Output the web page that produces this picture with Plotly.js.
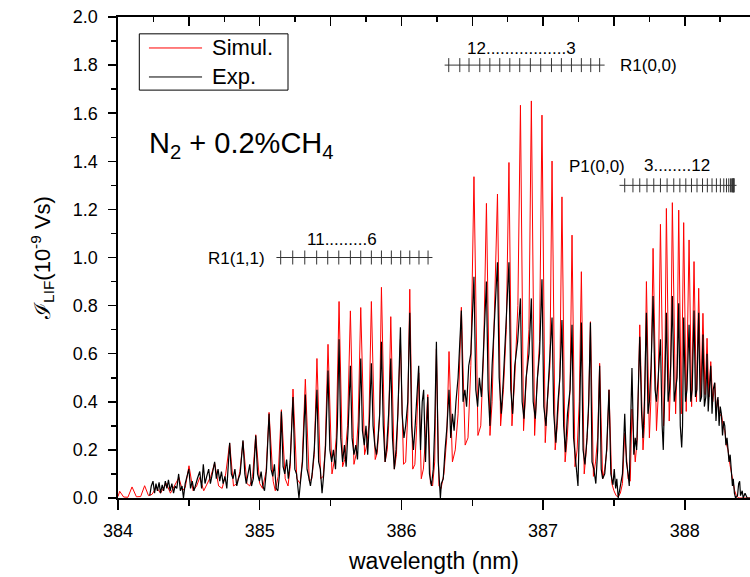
<!DOCTYPE html>
<html><head><meta charset="utf-8">
<script src="https://cdn.plot.ly/plotly-3.0.1.min.js"></script>
<style>html,body{margin:0;padding:0;background:#fff}#chart{width:750px;height:577px}</style>
</head><body><div id="chart"></div>
<script>
// Simulated spectrum (wavelength nm, intensity 1e-9 Vs)
const simData = [
[384.000,0.006],[384.012,0.028],[384.040,0.004],[384.070,0.003],[384.099,0.046],[384.130,0.005],[384.160,0.006],[384.188,0.051],[384.215,0.010],[384.240,0.015],
[384.271,0.045],[384.300,0.020],[384.320,0.040],[384.342,0.060],[384.370,0.020],[384.395,0.050],[384.430,0.085],[384.455,0.030],[384.475,0.045],[384.501,0.134],
[384.530,0.030],[384.555,0.050],[384.577,0.085],[384.605,0.030],[384.630,0.060],[384.655,0.090],[384.682,0.145],[384.710,0.050],[384.735,0.040],[384.760,0.100],
[384.788,0.228],[384.815,0.050],[384.840,0.060],[384.860,0.110],[384.882,0.235],[384.910,0.060],[384.930,0.050],[384.950,0.090],[384.972,0.263],[385.000,0.060],
[385.020,0.040],[385.045,0.110],[385.066,0.356],[385.095,0.070],[385.110,0.030],[385.130,0.090],[385.153,0.367],[385.180,0.080],[385.200,0.050],[385.215,0.130],
[385.235,0.453],[385.262,0.080],[385.285,0.060],[385.300,0.150],[385.322,0.494],[385.350,0.070],[385.368,0.080],[385.385,0.180],[385.404,0.580],[385.430,0.080],
[385.448,0.090],[385.462,0.200],[385.482,0.639],[385.510,0.100],[385.525,0.150],[385.540,0.250],[385.560,0.817],[385.585,0.130],[385.600,0.160],[385.620,0.300],
[385.640,0.778],[385.665,0.140],[385.680,0.180],[385.695,0.320],[385.713,0.792],[385.740,0.180],[385.755,0.220],[385.770,0.300],[385.788,0.817],[385.815,0.160],
[385.830,0.190],[385.845,0.330],[385.859,0.876],[385.885,0.150],[385.900,0.200],[385.910,0.300],[385.925,0.754],[385.950,0.120],[385.965,0.180],[385.975,0.350],
[385.993,0.660],[386.015,0.140],[386.030,0.150],[386.045,0.350],[386.059,0.868],[386.080,0.120],[386.095,0.140],[386.108,0.300],[386.122,0.520],[386.140,0.080],
[386.155,0.120],[386.170,0.250],[386.186,0.430],[386.205,0.060],[386.220,0.050],[386.235,0.150],[386.247,0.620],[386.265,0.050],[386.280,0.040],[386.300,0.100],
[386.320,0.250],[386.336,0.609],[386.360,0.150],[386.380,0.200],[386.400,0.350],[386.423,0.793],[386.450,0.220],[386.470,0.250],[386.490,0.550],[386.512,1.336],
[386.540,0.260],[386.560,0.300],[386.580,0.600],[386.600,1.225],[386.625,0.260],[386.640,0.400],[386.660,0.820],[386.678,1.264],[386.700,0.300],[386.720,0.450],
[386.740,0.700],[386.759,1.395],[386.780,0.300],[386.800,0.500],[386.822,0.800],[386.840,1.633],[386.862,0.280],[386.880,0.500],[386.900,0.700],[386.917,1.651],
[386.940,0.260],[386.955,0.450],[386.975,0.650],[386.992,1.592],[387.015,0.230],[387.030,0.400],[387.048,0.550],[387.063,1.401],[387.085,0.200],[387.100,0.300],
[387.118,0.500],[387.133,1.252],[387.155,0.150],[387.170,0.250],[387.190,0.450],[387.204,1.093],[387.225,0.130],[387.240,0.200],[387.255,0.400],[387.270,0.941],
[387.290,0.100],[387.305,0.200],[387.320,0.350],[387.334,0.733],[387.355,0.090],[387.370,0.150],[387.385,0.250],[387.399,0.560],[387.420,0.080],[387.435,0.120],
[387.450,0.200],[387.465,0.450],[387.485,0.060],[387.500,0.030],[387.515,0.010],[387.530,0.005],[387.545,0.020],[387.560,0.060],[387.576,0.270],[387.600,0.080],
[387.615,0.070],[387.627,0.370],[387.650,0.150],[387.665,0.250],[387.682,0.720],[387.705,0.200],[387.715,0.300],[387.729,0.900],[387.750,0.250],[387.760,0.400],
[387.776,1.038],[387.800,0.280],[387.812,0.420],[387.828,1.138],[387.850,0.300],[387.858,0.450],[387.870,1.204],[387.890,0.320],[387.900,0.500],[387.912,1.228],
[387.935,0.350],[387.945,0.550],[387.957,1.197],[387.975,0.350],[387.992,1.145],[388.010,0.360],[388.030,1.073],[388.048,0.380],[388.065,0.983],[388.082,0.400],
[388.098,0.872],[388.113,0.420],[388.128,0.768],[388.143,0.430],[388.157,0.664],[388.170,0.420],[388.183,0.567],[388.197,0.400],[388.211,0.477],[388.222,0.370],
[388.234,0.408],[388.246,0.340],[388.258,0.350],[388.270,0.300],[388.282,0.280],[388.295,0.220],[388.305,0.200],[388.318,0.140],[388.329,0.100],[388.340,0.060],
[388.352,0.030],[388.364,0.010],[388.380,0.000],[388.460,0.000]
];
// Experimental spectrum
const expData = [
[384.224,0.010],[384.235,0.050],[384.247,0.070],[384.258,0.020],[384.268,0.060],[384.278,0.030],[384.290,0.065],[384.300,0.020],[384.312,0.055],[384.322,0.030],
[384.334,0.070],[384.345,0.040],[384.356,0.075],[384.368,0.030],[384.380,0.060],[384.392,0.020],[384.403,0.050],[384.415,0.040],[384.428,0.100],[384.440,0.030],
[384.452,0.050],[384.462,0.000],[384.474,0.060],[384.488,0.090],[384.500,0.120],[384.512,0.040],[384.524,0.070],[384.536,0.030],[384.548,0.060],[384.560,0.080],
[384.577,0.110],[384.590,0.040],[384.602,0.140],[384.614,0.060],[384.626,0.090],[384.640,0.120],[384.652,0.060],[384.665,0.100],[384.682,0.150],[384.694,0.080],
[384.706,0.120],[384.718,0.070],[384.730,0.110],[384.742,0.060],[384.755,0.090],[384.768,0.040],[384.788,0.230],[384.800,0.100],[384.812,0.080],[384.825,0.120],
[384.838,0.050],[384.850,0.080],[384.862,0.100],[384.882,0.240],[384.895,0.100],[384.905,0.060],[384.918,0.110],[384.930,0.140],[384.942,0.050],[384.955,0.080],
[384.972,0.260],[384.985,0.100],[384.998,0.070],[385.010,0.110],[385.022,0.050],[385.034,0.030],[385.048,0.120],[385.066,0.350],[385.080,0.120],[385.092,0.090],
[385.104,0.140],[385.116,0.040],[385.128,0.030],[385.140,0.100],[385.153,0.360],[385.165,0.130],[385.177,0.100],[385.190,0.160],[385.202,0.080],[385.215,0.150],
[385.235,0.420],[385.248,0.120],[385.260,0.100],[385.277,0.000],[385.290,0.080],[385.302,0.150],[385.322,0.430],[385.334,0.120],[385.345,0.090],[385.358,0.050],
[385.370,0.100],[385.385,0.200],[385.404,0.450],[385.416,0.150],[385.428,0.120],[385.440,0.020],[385.452,0.100],[385.465,0.220],[385.482,0.530],[385.495,0.200],
[385.508,0.150],[385.520,0.200],[385.535,0.120],[385.548,0.300],[385.560,0.660],[385.572,0.250],[385.585,0.150],[385.598,0.220],[385.610,0.130],[385.625,0.300],
[385.640,0.550],[385.652,0.250],[385.665,0.180],[385.678,0.220],[385.690,0.160],[385.700,0.300],[385.713,0.580],[385.725,0.280],[385.738,0.220],[385.750,0.300],
[385.762,0.180],[385.775,0.330],[385.788,0.560],[385.800,0.300],[385.812,0.220],[385.824,0.180],[385.835,0.250],[385.847,0.350],[385.859,0.650],[385.872,0.300],
[385.885,0.150],[385.897,0.220],[385.910,0.350],[385.925,0.580],[385.937,0.250],[385.950,0.120],[385.962,0.200],[385.975,0.350],[385.993,0.710],[386.005,0.350],
[386.018,0.250],[386.030,0.300],[386.045,0.400],[386.059,0.770],[386.072,0.300],[386.085,0.200],[386.097,0.300],[386.110,0.450],[386.122,0.550],[386.135,0.200],
[386.147,0.400],[386.157,0.450],[386.170,0.150],[386.186,0.420],[386.198,0.100],[386.212,0.050],[386.225,0.120],[386.235,0.300],[386.247,0.650],[386.260,0.150],
[386.270,0.050],[386.275,0.000],[386.282,0.060],[386.295,0.080],[386.308,0.200],[386.322,0.300],[386.336,0.450],[386.348,0.250],[386.360,0.350],[386.372,0.280],
[386.385,0.400],[386.400,0.500],[386.423,0.780],[386.435,0.400],[386.448,0.450],[386.460,0.380],[386.475,0.550],[386.490,0.600],[386.512,0.920],[386.525,0.450],
[386.538,0.380],[386.550,0.500],[386.565,0.420],[386.580,0.600],[386.600,0.900],[386.612,0.450],[386.625,0.300],[386.640,0.550],[386.655,0.700],[386.678,0.980],
[386.690,0.500],[386.705,0.350],[386.720,0.500],[386.740,0.750],[386.759,0.980],[386.772,0.450],[386.785,0.350],[386.800,0.550],[386.820,0.650],[386.840,0.830],
[386.852,0.400],[386.865,0.330],[386.880,0.500],[386.900,0.600],[386.917,0.830],[386.930,0.400],[386.945,0.330],[386.960,0.500],[386.975,0.600],[386.992,0.910],
[387.005,0.380],[387.020,0.300],[387.035,0.450],[387.048,0.550],[387.063,0.750],[387.075,0.350],[387.090,0.230],[387.105,0.400],[387.118,0.500],[387.133,0.740],
[387.145,0.300],[387.158,0.190],[387.172,0.350],[387.190,0.450],[387.204,0.720],[387.215,0.250],[387.230,0.150],[387.246,0.050],[387.258,0.350],[387.270,0.730],
[387.282,0.200],[387.295,0.140],[387.310,0.250],[387.322,0.400],[387.334,0.730],[387.345,0.150],[387.358,0.120],[387.372,0.060],[387.385,0.200],[387.399,0.550],
[387.410,0.120],[387.420,0.080],[387.435,0.100],[387.448,0.200],[387.465,0.450],[387.478,0.100],[387.493,0.055],[387.502,0.120],[387.512,0.040],[387.520,0.080],
[387.530,0.000],[387.540,0.040],[387.550,0.080],[387.560,0.100],[387.576,0.350],[387.588,0.150],[387.600,0.100],[387.608,0.050],[387.615,0.250],[387.627,0.540],
[387.640,0.180],[387.650,0.250],[387.660,0.200],[387.670,0.400],[387.682,0.670],[387.695,0.350],[387.705,0.250],[387.715,0.400],[387.729,0.770],[387.740,0.350],
[387.750,0.400],[387.762,0.550],[387.776,0.840],[387.790,0.450],[387.800,0.400],[387.812,0.500],[387.828,0.660],[387.840,0.300],[387.848,0.200],[387.858,0.450],
[387.870,0.770],[387.882,0.400],[387.892,0.450],[387.900,0.550],[387.912,0.840],[387.925,0.400],[387.935,0.450],[387.945,0.500],[387.957,0.810],[387.968,0.300],
[387.978,0.210],[387.984,0.300],[387.992,0.750],[388.005,0.400],[388.015,0.450],[388.030,0.720],[388.042,0.400],[388.052,0.450],[388.065,0.780],[388.075,0.420],
[388.085,0.450],[388.098,0.770],[388.108,0.400],[388.118,0.420],[388.128,0.680],[388.138,0.380],[388.148,0.420],[388.157,0.600],[388.165,0.360],[388.175,0.450],
[388.183,0.550],[388.192,0.350],[388.200,0.450],[388.211,0.480],[388.220,0.320],[388.228,0.400],[388.234,0.420],[388.242,0.300],[388.250,0.380],[388.258,0.350],
[388.266,0.260],[388.275,0.320],[388.282,0.300],[388.290,0.220],[388.298,0.250],[388.305,0.200],[388.312,0.150],[388.320,0.180],[388.329,0.100],[388.336,0.050],
[388.342,0.080],[388.350,0.020],[388.358,0.000],[388.372,0.010],[388.380,0.060],[388.387,0.070],[388.393,0.010],[388.405,0.030],[388.412,0.000],[388.425,0.020],
[388.440,0.000],[388.460,0.000]
];
// Line-position rulers (assignments)
const r100Lines = [386.334,386.412,386.477,386.553,386.624,386.694,386.765,386.835,386.910,386.983,387.059,387.129,387.200,387.270,387.336,387.399];
const r100Bar = [386.305, 387.434];
const r100Level = 1.8;
const p100Lines = [387.576,387.634,387.682,387.733,387.781,387.828,387.875,387.922,387.965,388.007,388.047,388.086,388.125,388.159,388.192,388.223,388.251,388.275,388.294,388.310,388.322,388.331,388.336,388.340,388.343,388.346,388.348];
const p100Bar = [387.539, 388.365];
const p100Level = 1.3;
const r111Lines = [385.148,385.233,385.318,385.402,385.480,385.558,385.640,385.713,385.788,385.859,385.929,385.995,386.059,386.124,386.188];
const r111Bar = [385.118, 386.219];
const r111Level = 1.0;

const simWl = simData.map(p => p[0]), simI = simData.map(p => p[1]);
const expWl = expData.map(p => p[0]), expI = expData.map(p => p[1]);

const FONT = 'Liberation Sans, Arial, Helvetica, sans-serif';
const rulerColor = '#333333';

function ruler(lines, bar, level) {
  return [
    {x: bar, y: [level, level], mode: 'lines', line: {color: rulerColor, width: 1}, hoverinfo: 'skip', showlegend: false},
    {x: lines, y: lines.map(() => level), mode: 'markers', marker: {symbol: 'line-ns', size: 10, line: {color: rulerColor, width: 1}}, hoverinfo: 'skip', showlegend: false}
  ];
}

const traces = [
  {x: simWl, y: simI, mode: 'lines', name: 'Simul.', line: {color: '#ff0000', width: 1}, showlegend: false},
  {x: expWl, y: expI, mode: 'lines', name: 'Exp.', line: {color: '#000000', width: 1.2}, showlegend: false},
  ...ruler(r100Lines, r100Bar, r100Level),
  ...ruler(p100Lines, p100Bar, p100Level),
  ...ruler(r111Lines, r111Bar, r111Level),
  {x: [384], y: [null], xaxis: 'x2', mode: 'lines', hoverinfo: 'skip', showlegend: false}
];

const ann = (text, x, y, xanchor, size) => ({text, x, y, xref: 'x', yref: 'y', xanchor, yanchor: 'middle', showarrow: false, font: {family: FONT, size: size || 17, color: '#000'}});

const layout = {
  width: 750, height: 577,
  margin: {l: 118, r: 0, t: 17, b: 79},
  paper_bgcolor: '#fff', plot_bgcolor: '#fff',
  font: {family: FONT, color: '#000'},
  showlegend: false,
  xaxis: {
    range: [384, 388.46], showline: true, linecolor: '#000', linewidth: 1.6,
    ticks: 'outside', ticklen: 10, tickwidth: 1.5, tickcolor: '#000', tick0: 384, dtick: 1,
    minor: {ticks: 'outside', ticklen: 6, tickwidth: 1.5, tickcolor: '#000', dtick: 0.5, showgrid: false},
    tickfont: {size: 18, family: FONT}, ticklabelstandoff: 6,
    showgrid: false, zeroline: false,
    title: {text: 'wavelength (nm)', font: {size: 23, family: FONT}, standoff: 12}
  },
  xaxis2: {
    overlaying: 'x', side: 'top', anchor: 'y', range: [384, 388.46],
    showline: true, linecolor: '#000', linewidth: 1.6,
    ticks: 'inside', ticklen: 9, tickwidth: 1.5, tickcolor: '#000', tick0: 384, dtick: 0.5,
    minor: {ticks: 'inside', ticklen: 5, tickwidth: 1.5, tickcolor: '#000', dtick: 0.25, showgrid: false},
    showticklabels: false, showgrid: false, zeroline: false
  },
  yaxis: {
    range: [0, 2.0], showline: true, linecolor: '#000', linewidth: 1.6,
    ticks: 'outside', ticklen: 8, tickwidth: 1.5, tickcolor: '#000', tick0: 0, dtick: 0.2, tickformat: '.1f',
    minor: {ticks: 'outside', ticklen: 5, tickwidth: 1.5, tickcolor: '#000', dtick: 0.1, showgrid: false},
    tickfont: {size: 18, family: FONT}, ticklabelstandoff: 7,
    showgrid: false, zeroline: false,
    title: {text: 'ℐ<sub>LIF</sub>(10<sup>-9</sup> Vs)', font: {size: 22, family: FONT}, standoff: 16}
  },
  shapes: [
    {type: 'rect', xref: 'paper', yref: 'paper', x0: 0.0337, x1: 0.269, y0: 0.848, y1: 0.965, line: {color: '#000', width: 1}, fillcolor: '#fff'},
    {type: 'line', xref: 'paper', yref: 'paper', x0: 0.049, x1: 0.133, y0: 0.9356, y1: 0.9356, line: {color: '#ff0000', width: 1}},
    {type: 'line', xref: 'paper', yref: 'paper', x0: 0.049, x1: 0.133, y0: 0.8753, y1: 0.8753, line: {color: '#000', width: 1}}
  ],
  annotations: [
    {text: 'Simul.', xref: 'paper', yref: 'paper', x: 0.1456, y: 0.9356, xanchor: 'left', yanchor: 'middle', showarrow: false, font: {family: FONT, size: 22}},
    {text: 'Exp.', xref: 'paper', yref: 'paper', x: 0.1456, y: 0.8753, xanchor: 'left', yanchor: 'middle', showarrow: false, font: {family: FONT, size: 22}},
    {text: 'N<sub>2</sub> + 0.2%CH<sub>4</sub>', xref: 'paper', yref: 'paper', x: 0.046, y: 0.734, xanchor: 'left', yanchor: 'middle', showarrow: false, font: {family: FONT, size: 29}},
    ann('12.................3', 386.849, 1.870, 'center'),
    ann('R1(0,0)', 387.527, 1.80, 'left'),
    ann('P1(0,0)', 387.378, 1.377, 'center'),
    ann('3........12', 387.946, 1.384, 'center'),
    ann('R1(1,1)', 385.049, 0.994, 'right'),
    ann('11.........6', 385.582, 1.073, 'center')
  ]
};

Plotly.newPlot('chart', traces, layout, {displayModeBar: false, staticPlot: true});
</script>
</body></html>
